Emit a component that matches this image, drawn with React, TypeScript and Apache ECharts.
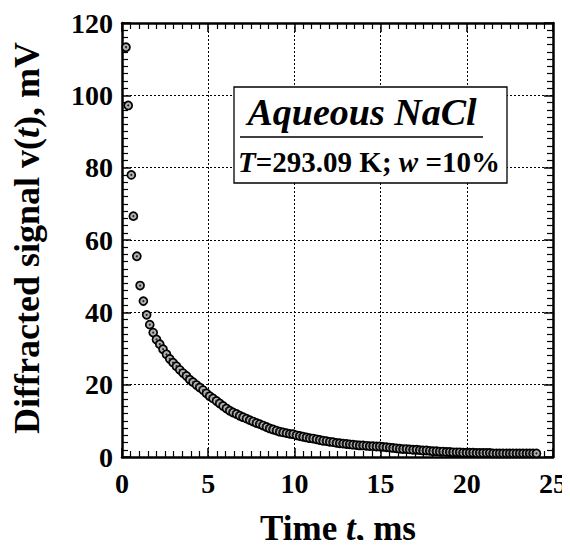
import React, { useEffect, useRef } from "react";
import * as echarts from "echarts";

// time, ms
const timeMs: number[] = [
  0.23, 0.36, 0.54, 0.66, 0.86, 1.05, 1.24, 1.43, 1.61, 1.81, 2.0, 2.19, 2.38, 2.58, 2.77, 2.96,
  3.16, 3.35, 3.54, 3.74, 3.93, 4.12, 4.32, 4.51, 4.7, 4.9, 5.09, 5.28, 5.48, 5.67, 5.86, 6.06,
  6.25, 6.44, 6.64, 6.83, 7.02, 7.22, 7.41, 7.6, 7.8, 7.99, 8.18, 8.38, 8.57, 8.76, 8.96, 9.15,
  9.34, 9.54, 9.73, 9.92, 10.12, 10.31, 10.5, 10.7, 10.89, 11.08, 11.28, 11.47, 11.66, 11.86,
  12.05, 12.24, 12.44, 12.63, 12.82, 13.02, 13.21, 13.4, 13.6, 13.79, 13.98, 14.18, 14.37, 14.56,
  14.76, 14.95, 15.14, 15.34, 15.53, 15.72, 15.92, 16.11, 16.3, 16.5, 16.69, 16.88, 17.08, 17.27,
  17.46, 17.66, 17.85, 18.04, 18.24, 18.43, 18.62, 18.82, 19.01, 19.2, 19.4, 19.59, 19.78, 19.98,
  20.17, 20.36, 20.56, 20.75, 20.94, 21.14, 21.33, 21.52, 21.72, 21.91, 22.1, 22.3, 22.49, 22.68,
  22.88, 23.07, 23.26, 23.46, 23.65, 23.84, 24.04,
];

// diffracted signal, mV
const signalMv: number[] = [
  113.3, 97.2, 78.0, 66.6, 55.5, 47.4, 43.1, 39.3, 36.6, 34.4, 32.5, 31.2, 29.8, 28.4, 27.1, 26.1,
  25.1, 24.1, 23.2, 22.4, 21.4, 20.7, 19.9, 19.2, 18.5, 17.6, 16.8, 16.2, 15.5, 14.8, 14.1, 13.4,
  12.8, 12.3, 11.9, 11.4, 11.0, 10.6, 10.2, 9.8, 9.4, 9.1, 8.7, 8.3, 7.9, 7.6, 7.3, 7.0,
  6.8, 6.6, 6.4, 6.3, 6.0, 5.8, 5.6, 5.4, 5.2, 5.1, 4.9, 4.7, 4.5, 4.4,
  4.2, 4.1, 3.9, 3.8, 3.7, 3.6, 3.5, 3.4, 3.3, 3.2, 3.2, 3.1, 3.0, 3.0,
  2.9, 2.9, 2.8, 2.7, 2.6, 2.5, 2.4, 2.3, 2.2, 2.2, 2.1, 2.0, 2.0, 1.9,
  1.8, 1.8, 1.7, 1.6, 1.6, 1.5, 1.5, 1.4, 1.4, 1.3, 1.3, 1.3, 1.2, 1.2,
  1.2, 1.2, 1.1, 1.1, 1.1, 1.1, 1.1, 1.0, 1.0, 1.0, 1.0, 1.0, 1.0, 1.0,
  1.0, 1.0, 1.0, 1.0, 1.0, 1.0, 1.0,
];

const xTicks = { min: 0, max: 25, interval: 5 };
const yTicks = { min: 0, max: 120, interval: 20 };

const SERIF = "'Liberation Serif', 'Times New Roman', serif";

export default function App() {
  const ref = useRef<HTMLDivElement>(null);

  useEffect(() => {
    if (!ref.current) return;
    const chart = echarts.init(ref.current, undefined, { renderer: "svg" });
    const points = timeMs.map((t, i) => [t, signalMv[i]]);

    const axisLine = { show: true, onZero: false, lineStyle: { color: "#000", width: 2.5 } };
    const axisTick = { show: true, inside: true, length: 9, lineStyle: { color: "#000", width: 1.5 } };
    const minorTick = { show: true, splitNumber: 10, length: 6, lineStyle: { color: "#000", width: 1.2 } };
    const splitLine = { show: true, lineStyle: { color: "#000", width: 1, type: [2, 2] as any } };
    const label = { fontFamily: SERIF, fontWeight: "bold" as const, fontSize: 28, color: "#000" };

    chart.setOption({
      animation: false,
      backgroundColor: "#fff",
      grid: { left: 122, right: 15, top: 23, bottom: 91, containLabel: false },
      xAxis: [
        {
          type: "value", position: "bottom", ...xTicks,
          axisLine, axisTick, minorTick, splitLine,
          axisLabel: { ...label, margin: 12, showMaxLabel: true, showMinLabel: true },
        },
        {
          type: "value", position: "top", ...xTicks,
          axisLine, axisTick, minorTick, splitLine: { show: false },
          axisLabel: { show: false },
        },
      ],
      yAxis: [
        {
          type: "value", position: "left", ...yTicks,
          axisLine, axisTick, minorTick, splitLine,
          axisLabel: { ...label, margin: 9 },
        },
        {
          type: "value", position: "right", ...yTicks,
          axisLine, axisTick, minorTick, splitLine: { show: false },
          axisLabel: { show: false },
        },
      ],
      series: [
        {
          type: "scatter",
          data: points,
          symbol: "circle",
          symbolSize: 8,
          itemStyle: { color: "#b0b0b0", borderColor: "#000", borderWidth: 1.7, opacity: 1 },
          z: 3,
        },
        {
          type: "scatter",
          data: points,
          symbol: "circle",
          symbolSize: 2,
          itemStyle: { color: "#222", opacity: 1 },
          z: 4,
          silent: true,
        },
      ],
      graphic: [
        {
          type: "text",
          x: 27,
          y: 238,
          rotation: Math.PI / 2,
          style: {
            text: "{n|Diffracted signal v(}{i|t}{n|), mV}",
            align: "center",
            verticalAlign: "middle",
            rich: {
              n: { fontFamily: SERIF, fontSize: 36, fontWeight: "bold", fill: "#000" },
              i: { fontFamily: SERIF, fontSize: 36, fontWeight: "bold", fontStyle: "italic", fill: "#000" },
            },
          },
        },
        {
          type: "text",
          x: 338,
          y: 528,
          style: {
            text: "{n|Time }{i|t}{n|, ms}",
            align: "center",
            verticalAlign: "middle",
            rich: {
              n: { fontFamily: SERIF, fontSize: 35, fontWeight: "bold", fill: "#000" },
              i: { fontFamily: SERIF, fontSize: 35, fontWeight: "bold", fontStyle: "italic", fill: "#000" },
            },
          },
        },
        {
          type: "group",
          z: 100,
          children: [
            {
              type: "rect",
              shape: { x: 234, y: 87, width: 273, height: 96 },
              style: { fill: "#fff", stroke: "#000", lineWidth: 1.3 },
              z: 100,
            },
            {
              type: "text",
              x: 362,
              y: 112,
              z: 101,
              style: {
                text: "Aqueous NaCl",
                align: "center",
                verticalAlign: "middle",
                fontFamily: SERIF,
                fontSize: 38,
                fontWeight: "bold",
                fontStyle: "italic",
                fill: "#000",
              },
            },
            {
              type: "line",
              shape: { x1: 240, y1: 137, x2: 483, y2: 137 },
              style: { stroke: "#000", lineWidth: 1.3 },
              z: 101,
            },
            {
              type: "text",
              x: 369,
              y: 162,
              z: 101,
              style: {
                text: "{i|T}{n|=293.09 K; }{i|w}{n| =10%}",
                align: "center",
                verticalAlign: "middle",
                rich: {
                  n: { fontFamily: SERIF, fontSize: 29, fontWeight: "bold", fill: "#000" },
                  i: { fontFamily: SERIF, fontSize: 29, fontWeight: "bold", fontStyle: "italic", fill: "#000" },
                },
              },
            },
          ],
        },
      ],
    });

    return () => chart.dispose();
  }, []);

  return <div ref={ref} style={{ width: 570, height: 548, margin: -8 }} />;
}
